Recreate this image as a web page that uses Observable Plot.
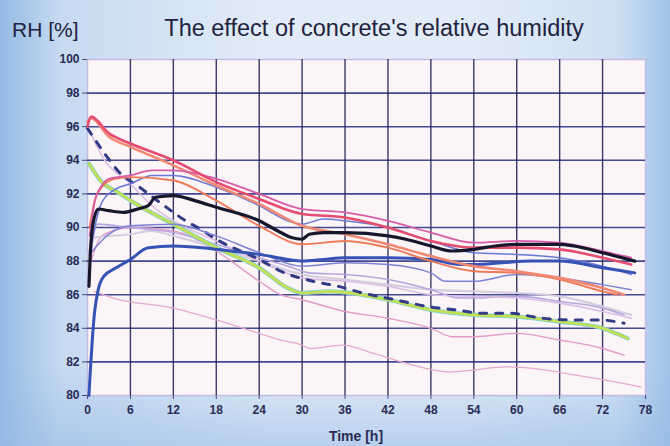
<!DOCTYPE html>
<html>
<head>
<meta charset="utf-8">
<script src="https://cdn.jsdelivr.net/npm/d3@7"></script>
<script src="https://cdn.jsdelivr.net/npm/@observablehq/plot@0.6"></script>
<style>
  html, body { margin: 0; padding: 0; }
  body {
    width: 670px; height: 446px; overflow: hidden;
    background:
      linear-gradient(to bottom, rgba(150,185,228,0) 82%, rgba(150,185,228,0.55) 100%),
      linear-gradient(to right, #94bbe5 0%, #c6daf0 9%, #e2ecf8 40%, #e2ecf8 70%, #cfe0f3 92%, #a0c2e8 100%);
    font-family: "Liberation Sans", Arial, sans-serif;
  }
</style>
</head>
<body>
<div id="chart"></div>
<script>
// ---- tick values ----
const xTicks = [0, 6, 12, 18, 24, 30, 36, 42, 48, 54, 60, 66, 72, 78];
const yTicks = [80, 82, 84, 86, 88, 90, 92, 94, 96, 98, 100];

// ---- series: [time h, RH %] ----
const redTop = [[0,96.0],[0.5,96.6],[3,95.6],[6,95.0],[12,94.0],[18,92.7],[24,91.7],[30,90.8],[36,90.6],[42,90.0],[48,89.2],[54,88.8],[60,88.8],[66,88.7],[72,88.2],[76,87.8]];
const salmon = [[0,96.3],[0.5,96.5],[3,95.4],[6,94.8],[12,93.7],[18,92.5],[24,91.4],[30,90.1],[36,89.6],[42,89.0],[48,88.3],[54,87.7],[60,87.4],[66,87.0],[72,86.4],[75,86.0]];
const magenta = [[0.3,89.5],[1,91.5],[2,92.5],[3,92.9],[6,93.1],[9,93.4],[12,93.4],[18,92.9],[24,92.0],[30,91.1],[36,90.9],[42,90.4],[48,89.7],[54,89.1],[60,89.2],[66,89.1],[72,88.6],[76,88.2]];
const orangeRise = [[0.3,90.0],[1,91.6],[2,92.4],[3.8,92.9],[6,93.0],[12,92.8],[18,91.6],[24,90.1],[30,89.0],[36,89.2],[42,88.8],[48,88.0],[54,87.4],[60,87.3],[66,86.9],[72,86.2],[74,86.0]];
const black = [[0.2,86.5],[0.4,88.5],[0.8,90.3],[1.5,91.1],[3,91.0],[5,90.9],[7,91.1],[8.5,91.3],[9.5,91.8],[12,91.9],[15,91.6],[18,91.2],[24,90.4],[27,89.7],[28.5,89.4],[30,89.3],[31,89.6],[33,89.7],[36,89.7],[42,89.5],[44.5,89.3],[48,88.9],[51,88.6],[54,88.7],[57,88.9],[60,89.0],[66,89.0],[68,88.9],[72,88.5],[76.5,88.0]];
const blueThin = [[0.5,89.0],[2,91.5],[4,92.3],[6,92.6],[9,93.1],[12,93.1],[18,92.4],[24,91.3],[28,90.4],[30,90.2],[33,90.5],[36,90.4],[42,90.0],[48,89.2],[54,88.5],[60,88.4],[66,88.2],[72,87.7],[76,87.2]];
const blueThick = [[0.2,80.0],[0.4,81.5],[0.7,83.5],[1,85.0],[1.5,86.3],[2.3,87.1],[4,87.6],[6,88.1],[8.5,88.8],[12,88.9],[16,88.8],[20,88.6],[24,88.4],[28,88.1],[30,88.0],[33,88.1],[36,88.2],[42,88.2],[48,88.1],[52,87.8],[54,87.8],[58,87.9],[62,88.0],[66,88.0],[72,87.6],[76.5,87.3]];
const blueLav = [[0.5,88.5],[3,89.6],[6,90.1],[12,90.2],[18,89.5],[24,88.5],[30,87.7],[36,87.9],[42,87.8],[48,87.3],[50,86.8],[54,86.8],[60,87.2],[66,87.0],[72,86.6],[76,86.3]];
const lavender = [[0.3,88.0],[1.4,90.2],[6,90.0],[12,89.7],[18,89.0],[24,88.2],[28,87.7],[31,87.3],[36,87.2],[42,86.9],[48,86.3],[52,85.8],[54,85.8],[60,85.9],[66,85.6],[72,85.2],[75,84.8]];
const paleGray = [[0,88.2],[1,89.4],[6,89.6],[9,89.8],[12,89.5],[18,88.8],[24,88.0],[30,87.2],[36,86.9],[42,86.6],[48,86.3],[54,86.2],[60,86.1],[66,85.9],[72,85.3],[76,84.8]];
const paleFromTop = [[0,96.0],[2.4,94.0],[6,92.6],[9,91.3],[12,90.4],[18,89.2],[24,88.0],[30,87.0],[36,86.8],[42,86.5],[48,86.0],[54,85.9],[60,85.8],[66,85.5],[72,85.0],[76,84.6]];
const dashed = [[0,95.9],[2.4,94.4],[4.2,93.4],[7.6,92.3],[12,90.9],[13.7,90.4],[15.8,89.9],[18,89.3],[24,88.1],[27,87.4],[31.5,86.8],[35,86.5],[38.5,86.1],[43,85.7],[47.5,85.3],[51.5,85.1],[55,84.9],[59,84.9],[63.5,84.6],[67.5,84.5],[71.5,84.5],[75,84.3]];
const green = [[0.2,93.8],[2,92.7],[4.2,92.1],[7.6,91.2],[12,90.2],[18,88.8],[24,87.6],[28,86.4],[30,86.1],[34,86.2],[42,85.7],[48,85.1],[54,84.8],[60,84.7],[66,84.4],[72,84.0],[75.5,83.4]];
const pinkMid = [[0.5,88.0],[2,89.5],[6,90.0],[12,89.8],[18,88.6],[24,86.8],[27,86.0],[30,85.7],[36,85.0],[42,84.6],[48,84.0],[51,83.5],[54,83.5],[60,83.7],[66,83.3],[72,82.8],[75,82.4]];
const pinkLow = [[0.9,86.2],[3.6,85.8],[12,85.2],[18,84.5],[24,83.7],[27,83.3],[30,83.0],[31,82.8],[35.7,83.0],[39.3,82.6],[44.7,81.9],[50.6,81.4],[53.6,81.5],[58.3,81.7],[62.5,81.6],[68.5,81.2],[72.6,80.9],[77.4,80.5]];

// ---- styles (kept apart from data) ----
const series = [
  {pts: pinkLow,     stroke: "#e6a8d0", w: 1.3},
  {pts: pinkMid,     stroke: "#e39ac8", w: 1.4},
  {pts: paleGray,    stroke: "#d6cde0", w: 2.2},
  {pts: lavender,    stroke: "#b6a6e0", w: 1.6},
  {pts: paleFromTop, stroke: "#dcbde4", w: 1.6},
  {pts: green,       stroke: "#7fd0d0", w: 4.2},
  {pts: green,       stroke: "#c6e050", w: 2.6},
  {pts: dashed,      stroke: "#323c86", w: 3, dash: "7,9"},
  {pts: blueLav,     stroke: "#7d82d4", w: 1.5},
  {pts: blueThin,    stroke: "#6a78d6", w: 1.5},
  {pts: blueThick,   stroke: "#3552b4", w: 3},
  {pts: orangeRise,  stroke: "#ef7a58", w: 1.9},
  {pts: salmon,      stroke: "#f08872", w: 2.6},
  {pts: magenta,     stroke: "#d75ca8", w: 1.8},
  {pts: redTop,      stroke: "#e64c70", w: 2.6},
  {pts: black,       stroke: "#16162c", w: 3.2}
];

const font = "Liberation Sans, Arial, sans-serif";

const chart = Plot.plot({
  width: 670,
  height: 446,
  marginLeft: 87,
  marginRight: 25,
  marginTop: 59,
  marginBottom: 51,
  style: {background: "transparent", fontFamily: font, overflow: "visible"},
  x: {domain: [0, 78]},
  y: {domain: [80, 100]},
  marks: [
    Plot.frame({fill: "#fcf5f8", stroke: "#c4bce0", strokeWidth: 1.5}),
    Plot.ruleY(yTicks.slice(1, -1), {stroke: "#353a8a", strokeWidth: 1.6, strokeOpacity: 0.92}),
    Plot.ruleX(xTicks.slice(1, -1), {stroke: "#28285a", strokeWidth: 1.4, strokeOpacity: 0.92}),
    ...series.map(s => Plot.line(s.pts, {
      x: d => d[0], y: d => d[1],
      stroke: s.stroke, strokeWidth: s.w,
      strokeDasharray: s.dash || null,
      curve: "monotone-x"
    })),
    Plot.axisY(yTicks, {tickSize: 5, tickPadding: 3, fontSize: 12, fontWeight: "bold", fill: "#2a2a55", stroke: "#4a4a80", label: null}),
    Plot.axisX(xTicks, {tickSize: 4, tickPadding: 6, fontSize: 12, fontWeight: "bold", fill: "#2a2a55", stroke: "#4a4a80", label: null})
  ]
});

const svg = d3.select(chart);
svg.append("text")
  .attr("x", 12).attr("y", 37)
  .attr("text-anchor", "start")
  .attr("font-family", font).attr("font-size", 21)
  .attr("fill", "#22223e")
  .text("RH [%]");
svg.append("text")
  .attr("x", 374).attr("y", 36)
  .attr("text-anchor", "middle")
  .attr("font-family", font).attr("font-size", 23.5)
  .attr("fill", "#22223e")
  .text("The effect of concrete's relative humidity");
svg.append("text")
  .attr("x", 356).attr("y", 441)
  .attr("text-anchor", "middle")
  .attr("font-family", font).attr("font-size", 14).attr("font-weight", "bold")
  .attr("fill", "#2a2a55")
  .text("Time [h]");

document.getElementById("chart").appendChild(chart);
</script>
</body>
</html>
